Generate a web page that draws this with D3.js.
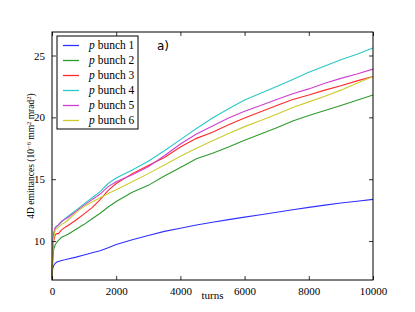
<!DOCTYPE html>
<html><head><meta charset="utf-8">
<script src="https://cdn.jsdelivr.net/npm/d3@7"></script>
<style>body{margin:0;background:#fff}svg{display:block}</style>
</head><body><div id="chart"></div>
<script>
const turns = [0,25,50,100,150,200,300,400,500,750,1000,1250,1500,1750,2000,2500,3000,3500,4000,4500,5000,5500,6000,6500,7000,7500,8000,8500,9000,9500,10000];
const bunch1 = [7.3,7.8,8.0,8.2,8.3,8.35,8.42,8.48,8.55,8.7,8.87,9.05,9.22,9.45,9.72,10.1,10.45,10.78,11.03,11.3,11.52,11.73,11.93,12.12,12.33,12.53,12.72,12.9,13.07,13.22,13.37];
const bunch2 = [6.9,8.5,9.3,9.7,9.9,10.05,10.3,10.42,10.55,10.95,11.35,11.8,12.25,12.75,13.2,13.95,14.5,15.25,15.95,16.65,17.1,17.6,18.15,18.65,19.15,19.7,20.15,20.55,20.95,21.38,21.8];
const bunch3 = [7.0,9.0,10.0,10.5,10.6,10.6,10.9,11.1,11.25,11.7,12.2,12.7,13.35,14.1,14.65,15.45,16.1,16.75,17.6,18.3,18.8,19.4,19.95,20.45,20.95,21.45,21.8,22.2,22.55,22.95,23.3];
const bunch4 = [7.0,9.5,10.5,11.0,11.2,11.3,11.55,11.8,12.0,12.5,13.0,13.5,14.0,14.65,15.1,15.75,16.45,17.3,18.2,19.1,19.95,20.7,21.4,21.95,22.5,23.05,23.65,24.15,24.65,25.1,25.6];
const bunch5 = [7.0,9.5,10.6,11.1,11.2,11.3,11.6,11.75,11.9,12.4,12.9,13.35,13.8,14.4,14.8,15.35,16.0,16.9,17.85,18.65,19.3,19.95,20.5,20.95,21.45,21.9,22.3,22.75,23.15,23.5,23.9];
const bunch6 = [7.0,9.2,10.2,10.9,11.0,11.1,11.35,11.5,11.7,12.3,12.8,13.15,13.5,13.85,14.15,14.8,15.45,16.15,16.85,17.5,18.1,18.7,19.25,19.75,20.25,20.8,21.25,21.7,22.2,22.75,23.3];
const seriesNames = ["bunch 1","bunch 2","bunch 3","bunch 4","bunch 5","bunch 6"];
const seriesValues = [bunch1,bunch2,bunch3,bunch4,bunch5,bunch6];
const colors = ["#3030ff","#2e9a2e","#ff2a2a","#2cc8c8","#cf3fcf","#cccc30"];
const xTicks = [0,2000,4000,6000,8000,10000];
const yTicks = [10,15,20,25];

(function(){
const W = 415, H = 312;
const m = {left:52, right:42, top:32, bottom:32};
const svg = d3.select("#chart").append("svg").attr("width",W).attr("height",H);
const x = d3.scaleLinear().domain([0,10000]).range([m.left, W-m.right]);
const y = d3.scaleLinear().domain([6.85,26.9]).range([H-m.bottom, m.top]);
const serif = "'Liberation Serif', 'DejaVu Serif', serif";

const line = d3.line().x(d=>x(d[0])).y(d=>y(d[1]));
const g = svg.append("g");
seriesValues.forEach((vals,i)=>{
  g.append("path").datum(turns.map((t,j)=>[t,vals[j]]))
   .attr("d",line).attr("fill","none").attr("stroke",colors[i]).attr("stroke-width",1.1);
});

const fmt = d3.format("d");
const axB = svg.append("g").attr("transform",`translate(0,${H-m.bottom})`)
  .call(d3.axisBottom(x).tickValues(xTicks).tickSize(-4).tickPadding(7).tickFormat(fmt));
const axT = svg.append("g").attr("transform",`translate(0,${m.top})`)
  .call(d3.axisTop(x).tickValues(xTicks).tickSize(-4).tickFormat(""));
const axL = svg.append("g").attr("transform",`translate(${m.left},0)`)
  .call(d3.axisLeft(y).tickValues(yTicks).tickSize(-4).tickPadding(7).tickFormat(fmt));
const axR = svg.append("g").attr("transform",`translate(${W-m.right},0)`)
  .call(d3.axisRight(y).tickValues(yTicks).tickSize(-4).tickFormat(""));
[axB,axT,axL,axR].forEach(a=>{
  a.select(".domain").remove();
  a.selectAll(".tick line").attr("stroke","#000").attr("stroke-width",0.8);
  a.selectAll("text").attr("font-family",serif).attr("font-size",11).attr("fill","#000");
});
svg.append("rect").attr("x",m.left).attr("y",m.top)
  .attr("width",W-m.left-m.right).attr("height",H-m.top-m.bottom)
  .attr("fill","none").attr("stroke","#000").attr("stroke-width",1);

svg.append("text").attr("x",(m.left+W-m.right)/2).attr("y",299).attr("text-anchor","middle")
  .attr("font-family",serif).attr("font-size",11).text("turns");
const yl = svg.append("text").attr("transform",`translate(34,${(m.top+H-m.bottom)/2}) rotate(-90)`)
  .attr("text-anchor","middle").attr("font-family",serif).attr("font-size",9.5);
yl.append("tspan").text("4D emittances (10");
yl.append("tspan").attr("dy",-3.5).attr("font-size",6.5).text("\u22126");
yl.append("tspan").attr("dy",3.5).text(" mm");
yl.append("tspan").attr("dy",-3.5).attr("font-size",6.5).text("2");
yl.append("tspan").attr("dy",3.5).text(" mrad");
yl.append("tspan").attr("dy",-3.5).attr("font-size",6.5).text("2");
yl.append("tspan").attr("dy",3.5).text(")");

svg.append("text").attr("x",157).attr("y",50).attr("font-family","'DejaVu Sans', sans-serif")
  .attr("font-size",12).text("a)");

const lg = svg.append("g");
lg.append("rect").attr("x",57).attr("y",36).attr("width",81).attr("height",93)
  .attr("fill","#fff").attr("stroke","#000").attr("stroke-width",1);
seriesNames.forEach((n,i)=>{
  const yy = 45.5 + i*15;
  lg.append("line").attr("x1",63).attr("x2",79).attr("y1",yy).attr("y2",yy)
    .attr("stroke",colors[i]).attr("stroke-width",1.3);
  const t = lg.append("text").attr("x",89).attr("y",yy+3.8)
    .attr("font-family",serif).attr("font-size",11.5);
  t.append("tspan").attr("font-style","italic").text("p");
  t.append("tspan").text(" " + n);
});
})();
</script></body></html>
